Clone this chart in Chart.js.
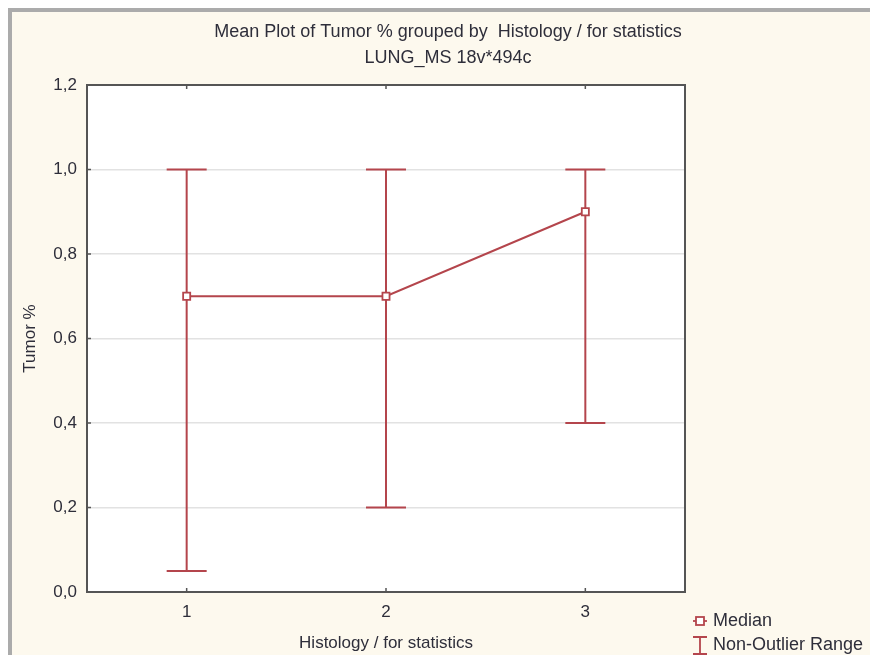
<!DOCTYPE html>
<html>
<head>
<meta charset="utf-8">
<script src="https://cdn.jsdelivr.net/npm/chart.js@4.4.1/dist/chart.umd.min.js"></script>
<style>
  html, body { margin: 0; padding: 0; background: #fff; }
  #wrap { width: 870px; height: 659px; position: relative; }
</style>
</head>
<body>
<div id="wrap"><canvas id="chart" width="870" height="659"></canvas></div>
<script>
// ---------- Dati ----------
const groups = [1, 2, 3];
const medians = [0.7, 0.7, 0.9];
const rangeLow = [0.05, 0.2, 0.4];
const rangeHigh = [1.0, 1.0, 1.0];
const titleLines = ["Mean Plot of Tumor % grouped by  Histology / for statistics", "LUNG_MS 18v*494c"];
const legendLabels = ["Median", "Non-Outlier Range"];

const RED = "#b4454c";
const TXT = "#2e2e3a";
const FONT = "'Liberation Sans', Arial, sans-serif";
const FS = 17;

// ---------- Sfondo, cornice, titolo, barre d'errore, legenda ----------
const statPlugin = {
  id: "statPlugin",
  beforeDraw(chart) {
    const { ctx, chartArea: a } = chart;
    ctx.save();
    ctx.fillStyle = "#ffffff";
    ctx.fillRect(0, 0, chart.width, chart.height);
    ctx.fillStyle = "#ababab";
    ctx.fillRect(8, 8, chart.width - 8, chart.height - 12);
    ctx.fillStyle = "#fdf9ee";
    ctx.fillRect(12, 12, chart.width - 12, chart.height - 16);
    ctx.fillStyle = "#ffffff";
    ctx.fillRect(a.left, a.top, a.right - a.left, a.bottom - a.top);
    ctx.restore();
  },
  beforeDatasetsDraw(chart) {
    const { ctx, scales } = chart;
    ctx.save();
    ctx.strokeStyle = RED;
    ctx.lineWidth = 2;
    groups.forEach((g, i) => {
      const x = scales.x.getPixelForValue(g);
      const y1 = scales.y.getPixelForValue(rangeLow[i]);
      const y2 = scales.y.getPixelForValue(rangeHigh[i]);
      ctx.beginPath();
      ctx.moveTo(x, y1); ctx.lineTo(x, y2);
      ctx.moveTo(x - 20, y1); ctx.lineTo(x + 20, y1);
      ctx.moveTo(x - 20, y2); ctx.lineTo(x + 20, y2);
      ctx.stroke();
    });
    ctx.restore();
  },
  afterDraw(chart) {
    const { ctx, chartArea: a, scales } = chart;
    ctx.save();
    // cornice dell'area
    ctx.strokeStyle = "#555555";
    ctx.lineWidth = 2;
    ctx.strokeRect(a.left, a.top, a.right - a.left, a.bottom - a.top);
    // tacche interne
    ctx.lineWidth = 1.5;
    ctx.beginPath();
    scales.x.ticks.forEach((t) => {
      const x = scales.x.getPixelForValue(t.value);
      ctx.moveTo(x, a.bottom); ctx.lineTo(x, a.bottom - 4);
      ctx.moveTo(x, a.top); ctx.lineTo(x, a.top + 4);
    });
    scales.y.ticks.forEach((t) => {
      const y = scales.y.getPixelForValue(t.value);
      ctx.moveTo(a.left, y); ctx.lineTo(a.left + 4, y);
    });
    ctx.stroke();

    // titolo (centrato sull'intera finestra)
    ctx.fillStyle = TXT;
    ctx.font = "18px " + FONT;
    ctx.textBaseline = "middle";
    ctx.textAlign = "center";
    ctx.fillText(titleLines[0], 448, 32);
    ctx.fillText(titleLines[1], 448, 58);

    // legenda
    const lx = 700;
    ctx.strokeStyle = RED;
    ctx.lineWidth = 1.8;
    ctx.beginPath();
    ctx.moveTo(lx - 7, 621); ctx.lineTo(lx + 7, 621);
    ctx.stroke();
    ctx.fillStyle = "#fff";
    ctx.fillRect(lx - 4, 617, 8, 8);
    ctx.strokeRect(lx - 4, 617, 8, 8);
    ctx.beginPath();
    ctx.moveTo(lx, 637); ctx.lineTo(lx, 654);
    ctx.moveTo(lx - 7, 637); ctx.lineTo(lx + 7, 637);
    ctx.moveTo(lx - 7, 654); ctx.lineTo(lx + 7, 654);
    ctx.stroke();
    ctx.fillStyle = TXT;
    ctx.textAlign = "left";
    ctx.fillText(legendLabels[0], 713, 621);
    ctx.fillText(legendLabels[1], 713, 645);
    ctx.restore();
  },
};

new Chart(document.getElementById("chart"), {
  type: "line",
  data: {
    datasets: [{
      label: legendLabels[0],
      data: groups.map((g, i) => ({ x: g, y: medians[i] })),
      borderColor: RED,
      borderWidth: 2,
      pointStyle: "rect",
      pointRadius: 5,
      pointBorderWidth: 1.8,
      pointBackgroundColor: "#ffffff",
      pointBorderColor: RED,
      tension: 0,
    }],
  },
  options: {
    responsive: false,
    animation: false,
    layout: { padding: { left: 12, right: 185, top: 85, bottom: 1 } },
    plugins: {
      legend: { display: false },
      tooltip: { enabled: false },
      title: { display: false },
    },
    scales: {
      x: {
        type: "linear",
        min: 0.5,
        max: 3.5,
        afterBuildTicks: (s) => { s.ticks = groups.map((v) => ({ value: v })); },
        afterFit: (s) => { s.height = 66; },
        grid: { display: false, drawTicks: false },
        border: { display: false },
        ticks: { color: TXT, padding: 10, font: { family: FONT, size: FS } },
        title: {
          display: true,
          text: "Histology / for statistics",
          color: TXT,
          font: { family: FONT, size: FS },
          padding: 4,
        },
      },
      y: {
        min: 0,
        max: 1.2,
        afterFit: (s) => { s.width = 75; },
        grid: { color: "#e2e2e2", lineWidth: 1.5, drawTicks: false },
        border: { display: false },
        ticks: {
          stepSize: 0.2,
          color: TXT,
          padding: 10,
          font: { family: FONT, size: FS },
          callback: (v) => v.toFixed(1).replace(".", ","),
        },
        title: {
          display: true,
          text: "Tumor %",
          color: TXT,
          font: { family: FONT, size: FS },
          padding: 8,
        },
      },
    },
  },
  plugins: [statPlugin],
});
</script>
</body>
</html>
